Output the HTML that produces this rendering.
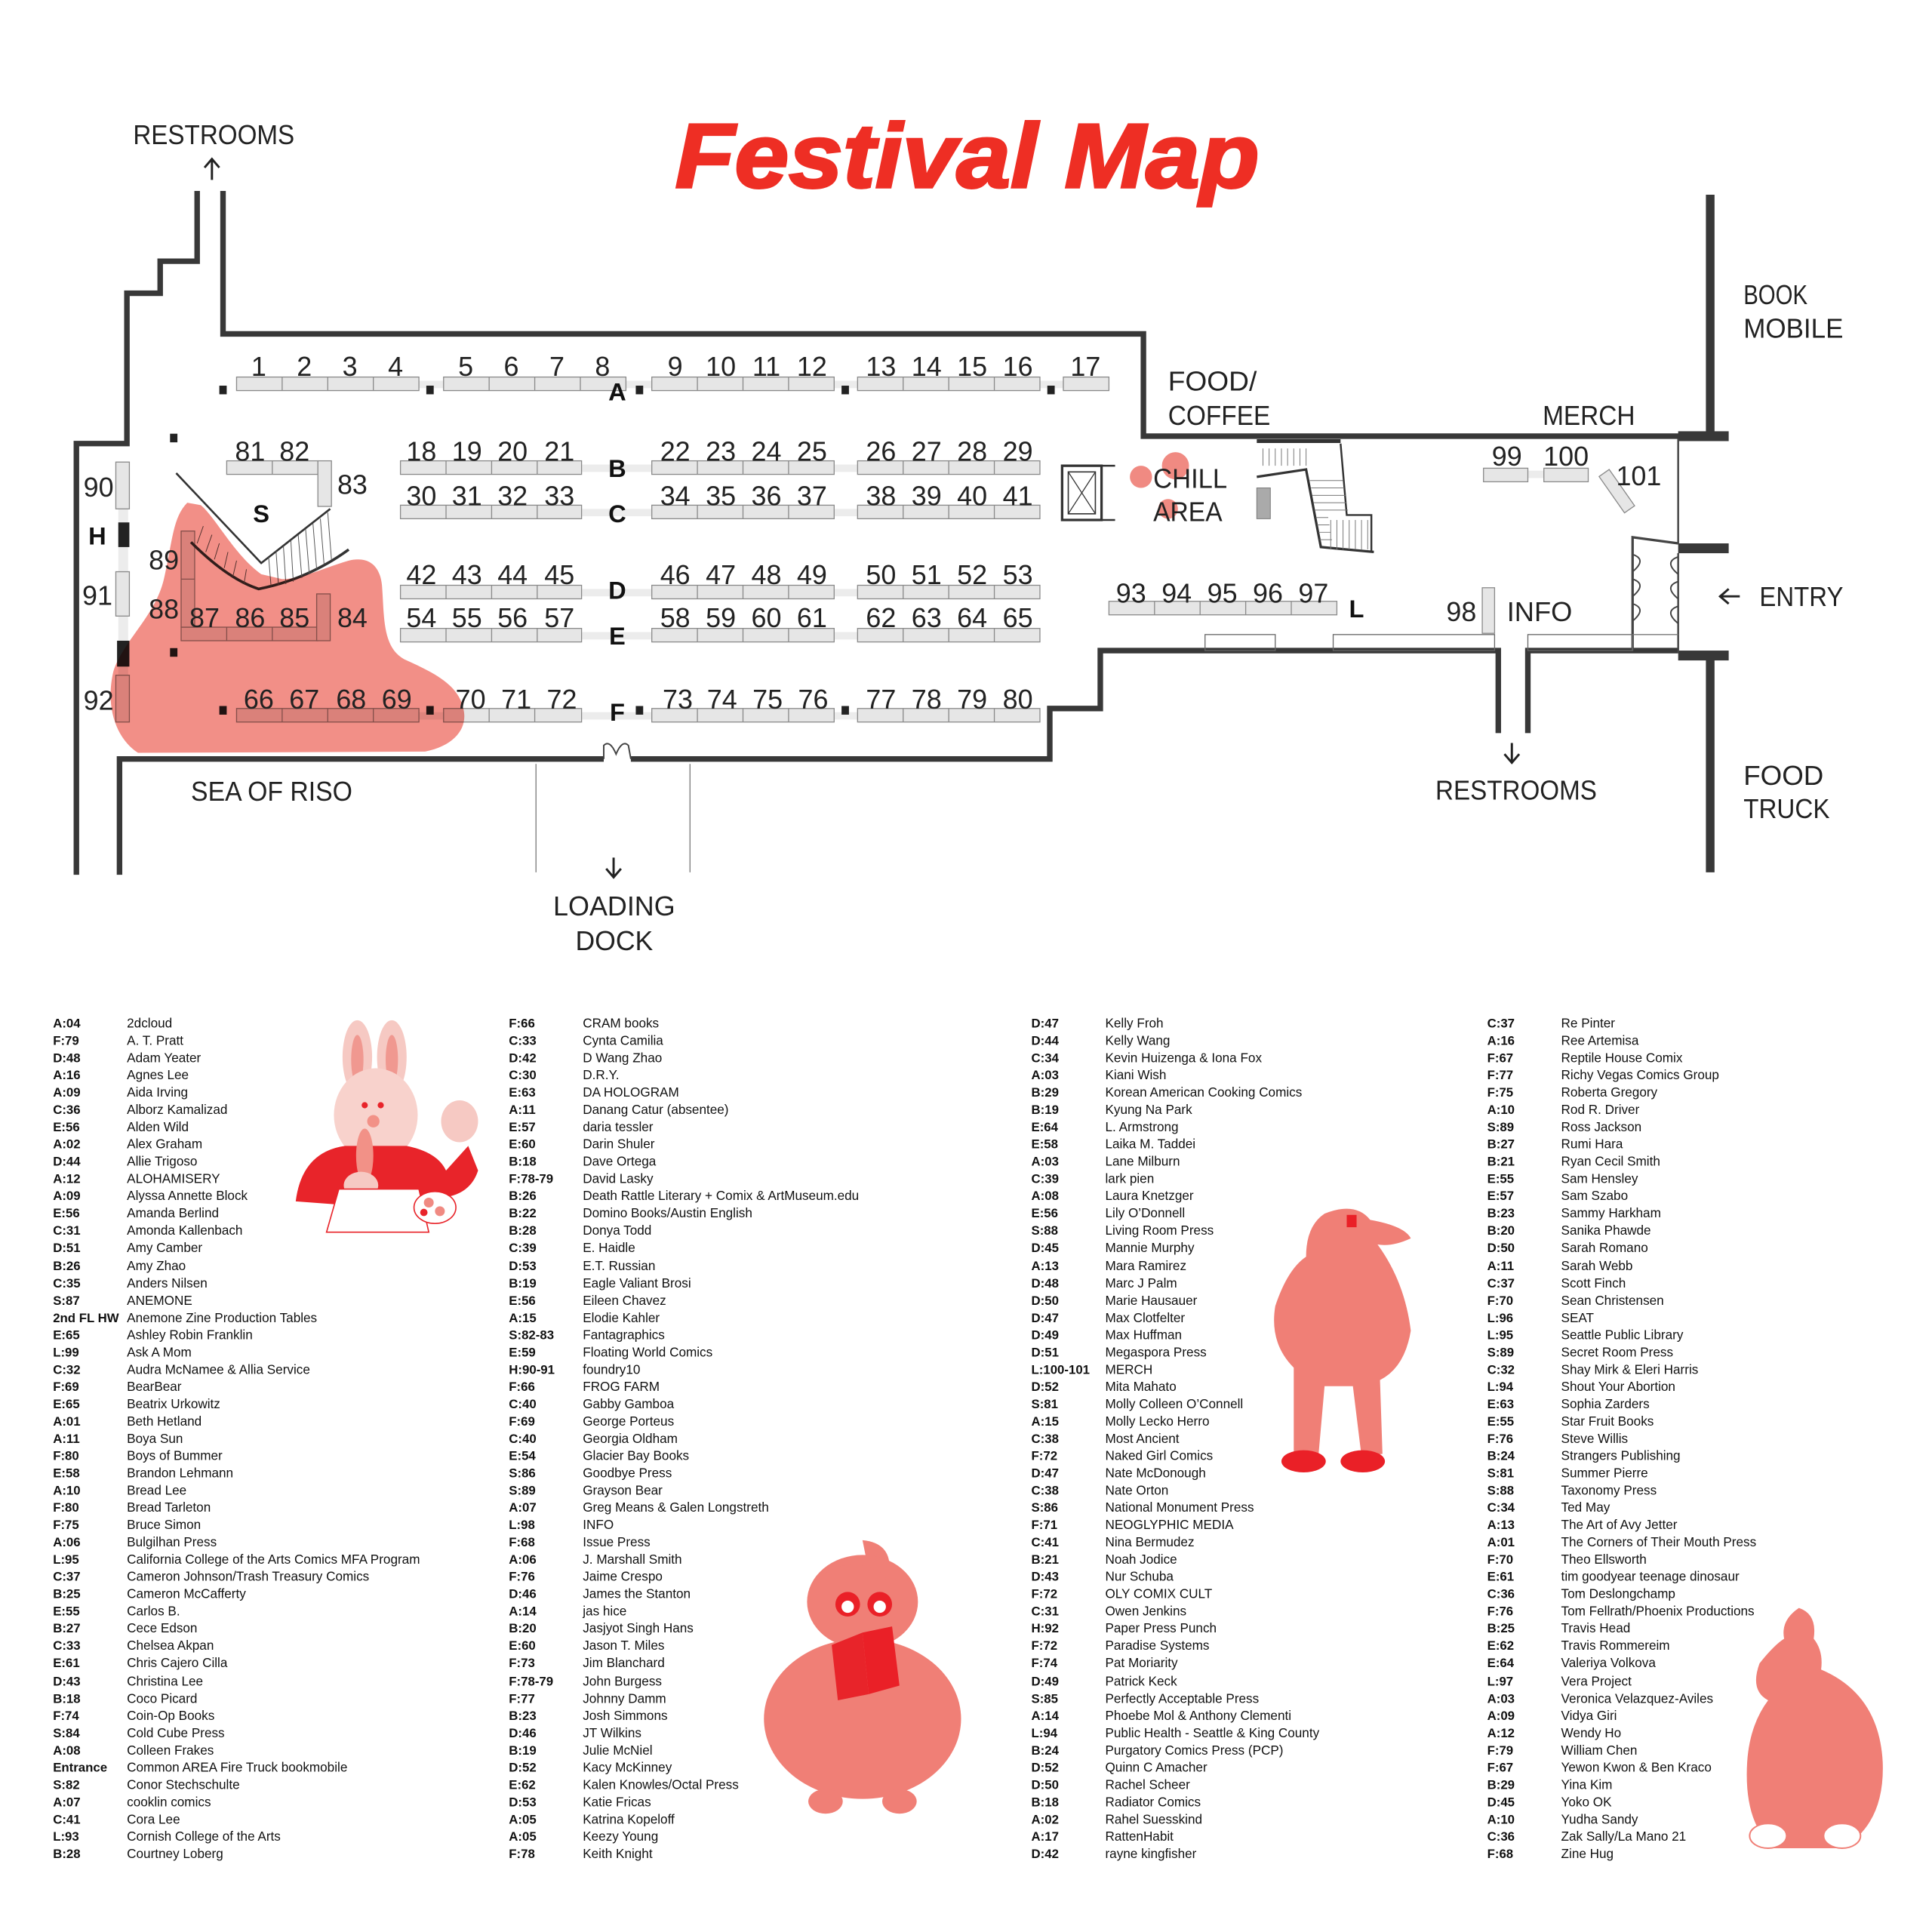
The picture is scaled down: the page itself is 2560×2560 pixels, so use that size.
<!DOCTYPE html>
<html><head><meta charset="utf-8"><style>
html,body{margin:0;padding:0;background:#fff}
svg{display:block}
.n{font-family:"Liberation Sans Narrow","Liberation Sans",sans-serif;font-size:22px;fill:#222;text-anchor:middle}
.lab{font-family:"Liberation Sans",sans-serif;font-size:22px;fill:#222}
.rl{font-family:"Liberation Sans",sans-serif;font-size:20px;font-weight:bold;fill:#111;text-anchor:middle}
.code{font-family:"Liberation Sans",sans-serif;font-size:10.3px;font-weight:bold;fill:#111}
.nm{font-family:"Liberation Sans",sans-serif;font-size:10.5px;fill:#111}
.t{fill:#e6e6e6;stroke:#8a8a8a;stroke-width:0.8}
.w{fill:none;stroke:#383838;stroke-width:4.5}
.thin{fill:none;stroke:#777;stroke-width:0.8}
</style></head><body>
<svg width="2560" height="2560" viewBox="0 0 1568 1568" xmlns="http://www.w3.org/2000/svg">
<text x="548" y="152" font-family="Liberation Sans,sans-serif" font-weight="bold" font-style="italic" font-size="74" fill="#ee2e24" stroke="#ee2e24" stroke-width="2" textLength="474" lengthAdjust="spacingAndGlyphs">Festival Map</text>

<polyline class="w" points="181,155 181,271 928,271 928,354 1388,354"/>
<line x1="1388" y1="158" x2="1388" y2="354" stroke="#383838" stroke-width="7"/>
<rect x="1362" y="350" width="41" height="8" fill="#383838"/>
<polyline class="w" points="160,155 160,212 130,212 130,238 103,238 103,360 62,360 62,710"/>
<polyline class="w" points="97,710 97,616 490,616"/>
<polyline class="w" points="512,616 852,616 852,575 893,575 893,528 1216,528 1216,595"/>
<polyline class="w" points="1240,595 1240,528 1362,528"/>
<rect x="1362" y="528" width="41" height="8" fill="#383838"/>
<line x1="1388" y1="535" x2="1388" y2="708" stroke="#383838" stroke-width="7"/>
<rect x="1362" y="441" width="41" height="8" fill="#383838"/>
<line x1="1362" y1="356" x2="1362" y2="441" stroke="#444" stroke-width="1.5"/>
<line x1="1362" y1="449" x2="1362" y2="528" stroke="#444" stroke-width="1.5"/>
<polyline fill="none" stroke="#444" stroke-width="2" points="1362,441 1325,436 1325,528"/>
<path d="M1325,450 q12,4 0,14 M1325,470 q12,4 0,14 M1325,490 q12,4 0,14 M1362,452 q-12,4 0,14 M1362,472 q-12,4 0,14 M1362,492 q-12,4 0,14" fill="none" stroke="#444" stroke-width="1.2"/>
<line x1="1325" y1="515" x2="1362" y2="515" class="thin"/>
<path d="M490,616 L490,605 Q495,600 500,612 Q505,600 510,605 L512,616" fill="none" stroke="#444" stroke-width="1.2"/>
<line x1="435" y1="620" x2="435" y2="708" class="thin"/>
<line x1="560" y1="620" x2="560" y2="708" class="thin"/>
<rect x="978" y="515" width="57" height="13" fill="none" stroke="#666" stroke-width="0.8"/>
<rect x="1082" y="515" width="131" height="13" fill="none" stroke="#666" stroke-width="0.8"/>
<rect x="1240" y="515" width="85" height="13" fill="none" stroke="#666" stroke-width="0.8"/>

<g fill="#ececec">
<rect x="340" y="309" width="530" height="6"/>
<rect x="472" y="377" width="57" height="6"/><rect x="677" y="377" width="19" height="6"/>
<rect x="472" y="413" width="57" height="6"/><rect x="677" y="413" width="19" height="6"/>
<rect x="472" y="478" width="57" height="6"/><rect x="677" y="478" width="19" height="6"/>
<rect x="472" y="513" width="57" height="6"/><rect x="677" y="513" width="19" height="6"/>
<rect x="340" y="578" width="356" height="6"/>
<rect x="96" y="413" width="8" height="135"/>
<rect x="1240" y="382" width="13" height="6"/>
</g>

<g>
<rect class="t" x="192" y="306" width="148" height="11"/><rect class="t" x="360" y="306" width="148" height="11"/><rect class="t" x="529" y="306" width="148" height="11"/><rect class="t" x="696" y="306" width="148" height="11"/><rect class="t" x="863" y="306" width="37" height="11"/>
<rect class="t" x="325" y="374" width="147" height="11"/><rect class="t" x="529" y="374" width="148" height="11"/><rect class="t" x="696" y="374" width="148" height="11"/>
<rect class="t" x="325" y="410" width="147" height="11"/><rect class="t" x="529" y="410" width="148" height="11"/><rect class="t" x="696" y="410" width="148" height="11"/>
<rect class="t" x="325" y="475" width="147" height="11"/><rect class="t" x="529" y="475" width="148" height="11"/><rect class="t" x="696" y="475" width="148" height="11"/>
<rect class="t" x="325" y="510" width="147" height="11"/><rect class="t" x="529" y="510" width="148" height="11"/><rect class="t" x="696" y="510" width="148" height="11"/>
<rect class="t" x="192" y="575" width="148" height="11"/><rect class="t" x="360" y="575" width="112" height="11"/><rect class="t" x="529" y="575" width="148" height="11"/><rect class="t" x="696" y="575" width="148" height="11"/>
<rect class="t" x="184" y="374" width="74" height="11"/><rect class="t" x="258" y="374" width="11" height="37"/>
<rect class="t" x="94" y="375" width="11" height="38"/><rect class="t" x="94" y="464" width="11" height="36"/><rect class="t" x="94" y="548" width="11" height="38"/>
<rect class="t" x="147" y="509" width="111" height="11"/><rect class="t" x="147" y="431" width="11" height="78"/><rect class="t" x="257" y="482" width="11" height="38"/>
<rect class="t" x="900" y="488" width="185" height="11"/>
<rect class="t" x="1203" y="477" width="10" height="37"/>
<rect class="t" x="1204" y="380" width="36" height="11"/><rect class="t" x="1253" y="380" width="36" height="11"/>
<rect class="t" x="0" y="0" width="36" height="10" transform="translate(1306,381) rotate(55)"/>
</g>
<g stroke="#8a8a8a" stroke-width="0.8">
<path d="M229,306v11M266,306v11M303,306v11M397,306v11M434,306v11M471,306v11M566,306v11M603,306v11M640,306v11M733,306v11M770,306v11M807,306v11"/>
<path d="M362,374v11M399,374v11M436,374v11M566,374v11M603,374v11M640,374v11M733,374v11M770,374v11M807,374v11"/>
<path d="M362,410v11M399,410v11M436,410v11M566,410v11M603,410v11M640,410v11M733,410v11M770,410v11M807,410v11"/>
<path d="M362,475v11M399,475v11M436,475v11M566,475v11M603,475v11M640,475v11M733,475v11M770,475v11M807,475v11"/>
<path d="M362,510v11M399,510v11M436,510v11M566,510v11M603,510v11M640,510v11M733,510v11M770,510v11M807,510v11"/>
<path d="M229,575v11M266,575v11M303,575v11M397,575v11M434,575v11M566,575v11M603,575v11M640,575v11M733,575v11M770,575v11M807,575v11"/>
<path d="M221,374v11M184,509v11M221,509v11M147,470h11M937,488v11M974,488v11M1011,488v11M1048,488v11"/>
</g>
<g fill="#222">
<rect x="178" y="313" width="6" height="7"/><rect x="346" y="313" width="6" height="7"/><rect x="516" y="313" width="6" height="7"/><rect x="683" y="313" width="6" height="7"/><rect x="850" y="313" width="6" height="7"/>
<rect x="178" y="573" width="6" height="7"/><rect x="346" y="573" width="6" height="7"/><rect x="516" y="573" width="6" height="7"/><rect x="683" y="573" width="6" height="7"/>
<rect x="138" y="352" width="6" height="7"/><rect x="138" y="526" width="6" height="7"/>
<rect x="96" y="424" width="9" height="20"/><rect x="95" y="520" width="10" height="21"/>
</g>

<polyline points="143,384 212,457 268,413" fill="none" stroke="#333" stroke-width="1.6"/>
<path d="M155,440 Q185,470 210,478 Q250,470 283,446" fill="none" stroke="#333" stroke-width="2.2"/>
<g stroke="#555" stroke-width="0.6">
<path d="M165,427 l-5,14 M172,434 l-5,14 M178,441 l-4,13 M185,448 l-3,13 M192,455 l-3,13 M200,462 l-2,12"/>
<path d="M218,452 l2,24 M224,447 l2,28 M230,443 l2,31 M236,438 l2,34 M242,434 l3,35 M248,429 l3,37 M254,425 l3,37 M260,421 l3,37 M266,416 l3,38"/>
</g>

<path d="M152,408 C140,420 140,440 133,470 C126,500 100,520 92,545 C85,575 95,600 112,611 L345,610 C370,605 380,590 376,575 C372,555 350,545 328,535 C310,525 312,500 310,475 C308,455 295,452 283,455 C265,460 245,470 229,470 L212,466 C190,450 175,420 163,410 Z" fill="#f07f76" fill-opacity="0.88" style="mix-blend-mode:multiply"/>

<rect x="862" y="378" width="32" height="44" fill="none" stroke="#333" stroke-width="2"/>
<rect x="867" y="383" width="22" height="34" fill="none" stroke="#333" stroke-width="1"/>
<path d="M867,383 L889,417 M889,383 L867,417" stroke="#333" stroke-width="0.8"/>
<path d="M894,378 H905 M894,422 H905" stroke="#333" stroke-width="1.5"/>
<circle cx="926" cy="387" r="9" fill="#f08a82"/><circle cx="954" cy="378" r="11" fill="#f08a82"/><circle cx="948" cy="413" r="8" fill="#f08a82"/>
<polyline points="1020,387 1060,381 1072,444 1115,448" fill="none" stroke="#333" stroke-width="2"/>
<polyline points="1088,360 1093,418 1113,418 1113,448" fill="none" stroke="#333" stroke-width="1.5"/>
<line x1="1020" y1="358" x2="1088" y2="358" stroke="#333" stroke-width="3"/>
<g stroke="#777" stroke-width="0.6">
<path d="M1025,364v14M1030,364v14M1035,364v14M1040,364v14M1045,364v14M1050,364v14M1055,364v14M1060,364v14"/>
<path d="M1063,390h27M1064,396h27M1065,402h27M1066,408h27M1067,414h27M1068,420h10M1069,426h10M1070,432h10M1071,438h10"/>
<path d="M1080,422v24M1085,422v24M1090,422v24M1095,422v24M1100,422v24M1105,422v24M1110,422v24"/>
</g>
<rect x="1020" y="396" width="11" height="25" fill="#aaa" stroke="#777" stroke-width="0.6"/>

<g class="n">
<text x="210" y="305">1</text><text x="247" y="305">2</text><text x="284" y="305">3</text><text x="321" y="305">4</text>
<text x="378" y="305">5</text><text x="415" y="305">6</text><text x="452" y="305">7</text><text x="489" y="305">8</text>
<text x="548" y="305">9</text><text x="585" y="305">10</text><text x="622" y="305">11</text><text x="659" y="305">12</text>
<text x="715" y="305">13</text><text x="752" y="305">14</text><text x="789" y="305">15</text><text x="826" y="305">16</text>
<text x="881" y="305">17</text>
<text x="203" y="374">81</text><text x="239" y="374">82</text><text x="286" y="401">83</text>
<text x="342" y="374">18</text><text x="379" y="374">19</text><text x="416" y="374">20</text><text x="454" y="374">21</text>
<text x="548" y="374">22</text><text x="585" y="374">23</text><text x="622" y="374">24</text><text x="659" y="374">25</text>
<text x="715" y="374">26</text><text x="752" y="374">27</text><text x="789" y="374">28</text><text x="826" y="374">29</text>
<text x="342" y="410">30</text><text x="379" y="410">31</text><text x="416" y="410">32</text><text x="454" y="410">33</text>
<text x="548" y="410">34</text><text x="585" y="410">35</text><text x="622" y="410">36</text><text x="659" y="410">37</text>
<text x="715" y="410">38</text><text x="752" y="410">39</text><text x="789" y="410">40</text><text x="826" y="410">41</text>
<text x="342" y="474">42</text><text x="379" y="474">43</text><text x="416" y="474">44</text><text x="454" y="474">45</text>
<text x="548" y="474">46</text><text x="585" y="474">47</text><text x="622" y="474">48</text><text x="659" y="474">49</text>
<text x="715" y="474">50</text><text x="752" y="474">51</text><text x="789" y="474">52</text><text x="826" y="474">53</text>
<text x="342" y="509">54</text><text x="379" y="509">55</text><text x="416" y="509">56</text><text x="454" y="509">57</text>
<text x="548" y="509">58</text><text x="585" y="509">59</text><text x="622" y="509">60</text><text x="659" y="509">61</text>
<text x="715" y="509">62</text><text x="752" y="509">63</text><text x="789" y="509">64</text><text x="826" y="509">65</text>
<text x="210" y="575">66</text><text x="247" y="575">67</text><text x="285" y="575">68</text><text x="322" y="575">69</text>
<text x="382" y="575">70</text><text x="419" y="575">71</text><text x="456" y="575">72</text>
<text x="550" y="575">73</text><text x="586" y="575">74</text><text x="623" y="575">75</text><text x="660" y="575">76</text>
<text x="715" y="575">77</text><text x="752" y="575">78</text><text x="789" y="575">79</text><text x="826" y="575">80</text>
<text x="166" y="509">87</text><text x="203" y="509">86</text><text x="239" y="509">85</text><text x="286" y="509">84</text>
<text x="133" y="462">89</text><text x="133" y="502">88</text>
<text x="80" y="403">90</text><text x="79" y="491">91</text><text x="80" y="576">92</text>
<text x="918" y="489">93</text><text x="955" y="489">94</text><text x="992" y="489">95</text><text x="1029" y="489">96</text><text x="1066" y="489">97</text>
<text x="1186" y="504">98</text><text x="1223" y="378">99</text><text x="1271" y="378">100</text><text x="1330" y="394">101</text>
</g>
<g class="rl">
<text x="501" y="325">A</text><text x="501" y="387">B</text><text x="501" y="424">C</text><text x="501" y="486">D</text><text x="501" y="523">E</text><text x="501" y="585">F</text>
<text x="212" y="424">S</text><text x="79" y="442">H</text><text x="1101" y="501">L</text>
</g>
<g class="lab">
<text x="108" y="117" textLength="131" lengthAdjust="spacingAndGlyphs">RESTROOMS</text>
<text x="1415" y="247" textLength="52" lengthAdjust="spacingAndGlyphs">BOOK</text><text x="1415" y="274" textLength="81" lengthAdjust="spacingAndGlyphs">MOBILE</text>
<text x="948" y="317" textLength="72" lengthAdjust="spacingAndGlyphs">FOOD/</text><text x="948" y="345" textLength="83" lengthAdjust="spacingAndGlyphs">COFFEE</text>
<text x="1252" y="345" textLength="75" lengthAdjust="spacingAndGlyphs">MERCH</text>
<text x="936" y="396" textLength="60" lengthAdjust="spacingAndGlyphs">CHILL</text><text x="936" y="423" textLength="56" lengthAdjust="spacingAndGlyphs">AREA</text>
<text x="1223" y="504" textLength="53" lengthAdjust="spacingAndGlyphs">INFO</text>
<text x="1428" y="492" textLength="68" lengthAdjust="spacingAndGlyphs">ENTRY</text>
<text x="1165" y="649" textLength="131" lengthAdjust="spacingAndGlyphs">RESTROOMS</text>
<text x="1415" y="637" textLength="65" lengthAdjust="spacingAndGlyphs">FOOD</text><text x="1415" y="664" textLength="70" lengthAdjust="spacingAndGlyphs">TRUCK</text>
<text x="155" y="650" textLength="131" lengthAdjust="spacingAndGlyphs">SEA OF RISO</text>
<text x="449" y="743" textLength="99" lengthAdjust="spacingAndGlyphs">LOADING</text><text x="467" y="771" textLength="63" lengthAdjust="spacingAndGlyphs">DOCK</text>
</g>
<g fill="none" stroke="#222" stroke-width="1.8">
<path d="M172,146 V130 M166,136 L172,129 L178,136"/>
<path d="M1412,484 H1397 M1403,478 L1396,484 L1403,490"/>
<path d="M1227,603 V618 M1221,612 L1227,619 L1233,612"/>
<path d="M498,696 V711 M492,705 L498,712 L504,705"/>
</g>

<g>
<ellipse cx="290" cy="858" rx="12" ry="30" fill="#f6c9c3"/><ellipse cx="318" cy="858" rx="12" ry="30" fill="#f6c9c3"/>
<ellipse cx="290" cy="860" rx="5" ry="20" fill="#f09890"/><ellipse cx="318" cy="860" rx="5" ry="20" fill="#f09890"/>
<ellipse cx="305" cy="905" rx="34" ry="38" fill="#f8d2cc"/>
<path d="M240,975 Q245,935 280,930 L330,930 Q355,935 362,950 L380,930 L388,950 Q380,975 345,972 L330,975 L280,978 Z" fill="#e8242a"/>
<ellipse cx="373" cy="910" rx="15" ry="17" fill="#f6c9c3"/>
<ellipse cx="296" cy="938" rx="7" ry="22" fill="#f29187"/>
<ellipse cx="293" cy="962" rx="14" ry="11" fill="#f6c9c3"/>
<path d="M275,965 L340,965 L348,1000 L265,1000 Z" fill="#fff" stroke="#e8242a" stroke-width="1"/>
<ellipse cx="353" cy="980" rx="17" ry="13" fill="#fff" stroke="#e8242a" stroke-width="1"/>
<circle cx="348" cy="976" r="4" fill="#f08a82"/><circle cx="357" cy="983" r="4" fill="#f08a82"/><circle cx="344" cy="984" r="3" fill="#e8242a"/>
<circle cx="296" cy="897" r="2.5" fill="#e8242a"/><circle cx="309" cy="897" r="2.5" fill="#e8242a"/><circle cx="303" cy="910" r="5" fill="#f29187"/>
<path d="M1075,985 Q1100,975 1112,990 Q1140,995 1145,1005 Q1130,1012 1118,1010 Q1140,1040 1145,1080 Q1140,1110 1120,1120 L1122,1180 L1105,1182 L1098,1125 L1075,1125 L1070,1182 L1050,1182 L1050,1110 Q1030,1090 1035,1060 Q1045,1030 1060,1020 Q1060,995 1075,985 Z" fill="#f07f76"/>
<ellipse cx="1058" cy="1186" rx="18" ry="9" fill="#ea2027"/><ellipse cx="1106" cy="1186" rx="18" ry="9" fill="#ea2027"/>
<rect x="1093" y="986" width="8" height="10" fill="#ea2027"/>
<path d="M700,1250 Q722,1252 722,1272 L705,1275 Z" fill="#f07f76"/>
<ellipse cx="700" cy="1300" rx="45" ry="38" fill="#f07f76"/>
<ellipse cx="700" cy="1395" rx="80" ry="65" fill="#f07f76"/>
<path d="M668,1278 Q690,1262 718,1278 L720,1285 L668,1285 Z" fill="#f07f76"/>
<circle cx="688" cy="1302" r="10" fill="#ea2027"/><circle cx="714" cy="1302" r="10" fill="#ea2027"/>
<circle cx="688" cy="1304" r="5" fill="#fff"/><circle cx="714" cy="1304" r="5" fill="#fff"/>
<path d="M675,1335 L700,1325 L705,1375 L680,1380 Z" fill="#e8242a"/><path d="M700,1325 L724,1320 L730,1368 L705,1375 Z" fill="#ea2027"/>
<ellipse cx="670" cy="1462" rx="14" ry="10" fill="#f07f76"/><ellipse cx="730" cy="1462" rx="14" ry="10" fill="#f07f76"/>
<path d="M1460,1305 Q1475,1310 1472,1330 Q1480,1340 1478,1355 Q1525,1375 1528,1430 Q1530,1480 1495,1500 L1440,1500 Q1415,1480 1418,1430 Q1420,1400 1435,1380 Q1420,1372 1428,1350 Q1440,1335 1448,1330 Q1445,1315 1460,1305 Z" fill="#f07f76"/>
<ellipse cx="1435" cy="1490" rx="15" ry="10" fill="#fff" stroke="#f07f76" stroke-width="1.2"/><ellipse cx="1495" cy="1490" rx="15" ry="10" fill="#fff" stroke="#f07f76" stroke-width="1.2"/>
</g>

<text class="code"><tspan x="43" y="834">A:04</tspan><tspan x="43" y="848">F:79</tspan><tspan x="43" y="862">D:48</tspan><tspan x="43" y="876">A:16</tspan><tspan x="43" y="890">A:09</tspan><tspan x="43" y="904">C:36</tspan><tspan x="43" y="918">E:56</tspan><tspan x="43" y="932">A:02</tspan><tspan x="43" y="946">D:44</tspan><tspan x="43" y="960">A:12</tspan><tspan x="43" y="974">A:09</tspan><tspan x="43" y="988">E:56</tspan><tspan x="43" y="1002">C:31</tspan><tspan x="43" y="1016">D:51</tspan><tspan x="43" y="1031">B:26</tspan><tspan x="43" y="1045">C:35</tspan><tspan x="43" y="1059">S:87</tspan><tspan x="43" y="1073">2nd FL HW</tspan><tspan x="43" y="1087">E:65</tspan><tspan x="43" y="1101">L:99</tspan><tspan x="43" y="1115">C:32</tspan><tspan x="43" y="1129">F:69</tspan><tspan x="43" y="1143">E:65</tspan><tspan x="43" y="1157">A:01</tspan><tspan x="43" y="1171">A:11</tspan><tspan x="43" y="1185">F:80</tspan><tspan x="43" y="1199">E:58</tspan><tspan x="43" y="1213">A:10</tspan><tspan x="43" y="1227">F:80</tspan><tspan x="43" y="1241">F:75</tspan><tspan x="43" y="1255">A:06</tspan><tspan x="43" y="1269">L:95</tspan><tspan x="43" y="1283">C:37</tspan><tspan x="43" y="1297">B:25</tspan><tspan x="43" y="1311">E:55</tspan><tspan x="43" y="1325">B:27</tspan><tspan x="43" y="1339">C:33</tspan><tspan x="43" y="1353">E:61</tspan><tspan x="43" y="1368">D:43</tspan><tspan x="43" y="1382">B:18</tspan><tspan x="43" y="1396">F:74</tspan><tspan x="43" y="1410">S:84</tspan><tspan x="43" y="1424">A:08</tspan><tspan x="43" y="1438">Entrance</tspan><tspan x="43" y="1452">S:82</tspan><tspan x="43" y="1466">A:07</tspan><tspan x="43" y="1480">C:41</tspan><tspan x="43" y="1494">L:93</tspan><tspan x="43" y="1508">B:28</tspan></text>
<text class="nm"><tspan x="103" y="834">2dcloud</tspan><tspan x="103" y="848">A. T. Pratt</tspan><tspan x="103" y="862">Adam Yeater</tspan><tspan x="103" y="876">Agnes Lee</tspan><tspan x="103" y="890">Aida Irving</tspan><tspan x="103" y="904">Alborz Kamalizad</tspan><tspan x="103" y="918">Alden Wild</tspan><tspan x="103" y="932">Alex Graham</tspan><tspan x="103" y="946">Allie Trigoso</tspan><tspan x="103" y="960">ALOHAMISERY</tspan><tspan x="103" y="974">Alyssa Annette Block</tspan><tspan x="103" y="988">Amanda Berlind</tspan><tspan x="103" y="1002">Amonda Kallenbach</tspan><tspan x="103" y="1016">Amy Camber</tspan><tspan x="103" y="1031">Amy Zhao</tspan><tspan x="103" y="1045">Anders Nilsen</tspan><tspan x="103" y="1059">ANEMONE</tspan><tspan x="103" y="1073">Anemone Zine Production Tables</tspan><tspan x="103" y="1087">Ashley Robin Franklin</tspan><tspan x="103" y="1101">Ask A Mom</tspan><tspan x="103" y="1115">Audra McNamee &amp; Allia Service</tspan><tspan x="103" y="1129">BearBear</tspan><tspan x="103" y="1143">Beatrix Urkowitz</tspan><tspan x="103" y="1157">Beth Hetland</tspan><tspan x="103" y="1171">Boya Sun</tspan><tspan x="103" y="1185">Boys of Bummer</tspan><tspan x="103" y="1199">Brandon Lehmann</tspan><tspan x="103" y="1213">Bread Lee</tspan><tspan x="103" y="1227">Bread Tarleton</tspan><tspan x="103" y="1241">Bruce Simon</tspan><tspan x="103" y="1255">Bulgilhan Press</tspan><tspan x="103" y="1269">California College of the Arts Comics MFA Program</tspan><tspan x="103" y="1283">Cameron Johnson/Trash Treasury Comics</tspan><tspan x="103" y="1297">Cameron McCafferty</tspan><tspan x="103" y="1311">Carlos B.</tspan><tspan x="103" y="1325">Cece Edson</tspan><tspan x="103" y="1339">Chelsea Akpan</tspan><tspan x="103" y="1353">Chris Cajero Cilla</tspan><tspan x="103" y="1368">Christina Lee</tspan><tspan x="103" y="1382">Coco Picard</tspan><tspan x="103" y="1396">Coin-Op Books</tspan><tspan x="103" y="1410">Cold Cube Press</tspan><tspan x="103" y="1424">Colleen Frakes</tspan><tspan x="103" y="1438">Common AREA Fire Truck bookmobile</tspan><tspan x="103" y="1452">Conor Stechschulte</tspan><tspan x="103" y="1466">cooklin comics</tspan><tspan x="103" y="1480">Cora Lee</tspan><tspan x="103" y="1494">Cornish College of the Arts</tspan><tspan x="103" y="1508">Courtney Loberg</tspan></text>

<text class="code"><tspan x="413" y="834">F:66</tspan><tspan x="413" y="848">C:33</tspan><tspan x="413" y="862">D:42</tspan><tspan x="413" y="876">C:30</tspan><tspan x="413" y="890">E:63</tspan><tspan x="413" y="904">A:11</tspan><tspan x="413" y="918">E:57</tspan><tspan x="413" y="932">E:60</tspan><tspan x="413" y="946">B:18</tspan><tspan x="413" y="960">F:78-79</tspan><tspan x="413" y="974">B:26</tspan><tspan x="413" y="988">B:22</tspan><tspan x="413" y="1002">B:28</tspan><tspan x="413" y="1016">C:39</tspan><tspan x="413" y="1031">D:53</tspan><tspan x="413" y="1045">B:19</tspan><tspan x="413" y="1059">E:56</tspan><tspan x="413" y="1073">A:15</tspan><tspan x="413" y="1087">S:82-83</tspan><tspan x="413" y="1101">E:59</tspan><tspan x="413" y="1115">H:90-91</tspan><tspan x="413" y="1129">F:66</tspan><tspan x="413" y="1143">C:40</tspan><tspan x="413" y="1157">F:69</tspan><tspan x="413" y="1171">C:40</tspan><tspan x="413" y="1185">E:54</tspan><tspan x="413" y="1199">S:86</tspan><tspan x="413" y="1213">S:89</tspan><tspan x="413" y="1227">A:07</tspan><tspan x="413" y="1241">L:98</tspan><tspan x="413" y="1255">F:68</tspan><tspan x="413" y="1269">A:06</tspan><tspan x="413" y="1283">F:76</tspan><tspan x="413" y="1297">D:46</tspan><tspan x="413" y="1311">A:14</tspan><tspan x="413" y="1325">B:20</tspan><tspan x="413" y="1339">E:60</tspan><tspan x="413" y="1353">F:73</tspan><tspan x="413" y="1368">F:78-79</tspan><tspan x="413" y="1382">F:77</tspan><tspan x="413" y="1396">B:23</tspan><tspan x="413" y="1410">D:46</tspan><tspan x="413" y="1424">B:19</tspan><tspan x="413" y="1438">D:52</tspan><tspan x="413" y="1452">E:62</tspan><tspan x="413" y="1466">D:53</tspan><tspan x="413" y="1480">A:05</tspan><tspan x="413" y="1494">A:05</tspan><tspan x="413" y="1508">F:78</tspan></text>
<text class="nm"><tspan x="473" y="834">CRAM books</tspan><tspan x="473" y="848">Cynta Camilia</tspan><tspan x="473" y="862">D Wang Zhao</tspan><tspan x="473" y="876">D.R.Y.</tspan><tspan x="473" y="890">DA HOLOGRAM</tspan><tspan x="473" y="904">Danang Catur (absentee)</tspan><tspan x="473" y="918">daria tessler</tspan><tspan x="473" y="932">Darin Shuler</tspan><tspan x="473" y="946">Dave Ortega</tspan><tspan x="473" y="960">David Lasky</tspan><tspan x="473" y="974">Death Rattle Literary + Comix &amp; ArtMuseum.edu</tspan><tspan x="473" y="988">Domino Books/Austin English</tspan><tspan x="473" y="1002">Donya Todd</tspan><tspan x="473" y="1016">E. Haidle</tspan><tspan x="473" y="1031">E.T. Russian</tspan><tspan x="473" y="1045">Eagle Valiant Brosi</tspan><tspan x="473" y="1059">Eileen Chavez</tspan><tspan x="473" y="1073">Elodie Kahler</tspan><tspan x="473" y="1087">Fantagraphics</tspan><tspan x="473" y="1101">Floating World Comics</tspan><tspan x="473" y="1115">foundry10</tspan><tspan x="473" y="1129">FROG FARM</tspan><tspan x="473" y="1143">Gabby Gamboa</tspan><tspan x="473" y="1157">George Porteus</tspan><tspan x="473" y="1171">Georgia Oldham</tspan><tspan x="473" y="1185">Glacier Bay Books</tspan><tspan x="473" y="1199">Goodbye Press</tspan><tspan x="473" y="1213">Grayson Bear</tspan><tspan x="473" y="1227">Greg Means &amp; Galen Longstreth</tspan><tspan x="473" y="1241">INFO</tspan><tspan x="473" y="1255">Issue Press</tspan><tspan x="473" y="1269">J. Marshall Smith</tspan><tspan x="473" y="1283">Jaime Crespo</tspan><tspan x="473" y="1297">James the Stanton</tspan><tspan x="473" y="1311">jas hice</tspan><tspan x="473" y="1325">Jasjyot Singh Hans</tspan><tspan x="473" y="1339">Jason T. Miles</tspan><tspan x="473" y="1353">Jim Blanchard</tspan><tspan x="473" y="1368">John Burgess</tspan><tspan x="473" y="1382">Johnny Damm</tspan><tspan x="473" y="1396">Josh Simmons</tspan><tspan x="473" y="1410">JT Wilkins</tspan><tspan x="473" y="1424">Julie McNiel</tspan><tspan x="473" y="1438">Kacy McKinney</tspan><tspan x="473" y="1452">Kalen Knowles/Octal Press</tspan><tspan x="473" y="1466">Katie Fricas</tspan><tspan x="473" y="1480">Katrina Kopeloff</tspan><tspan x="473" y="1494">Keezy Young</tspan><tspan x="473" y="1508">Keith Knight</tspan></text>

<text class="code"><tspan x="837" y="834">D:47</tspan><tspan x="837" y="848">D:44</tspan><tspan x="837" y="862">C:34</tspan><tspan x="837" y="876">A:03</tspan><tspan x="837" y="890">B:29</tspan><tspan x="837" y="904">B:19</tspan><tspan x="837" y="918">E:64</tspan><tspan x="837" y="932">E:58</tspan><tspan x="837" y="946">A:03</tspan><tspan x="837" y="960">C:39</tspan><tspan x="837" y="974">A:08</tspan><tspan x="837" y="988">E:56</tspan><tspan x="837" y="1002">S:88</tspan><tspan x="837" y="1016">D:45</tspan><tspan x="837" y="1031">A:13</tspan><tspan x="837" y="1045">D:48</tspan><tspan x="837" y="1059">D:50</tspan><tspan x="837" y="1073">D:47</tspan><tspan x="837" y="1087">D:49</tspan><tspan x="837" y="1101">D:51</tspan><tspan x="837" y="1115">L:100-101</tspan><tspan x="837" y="1129">D:52</tspan><tspan x="837" y="1143">S:81</tspan><tspan x="837" y="1157">A:15</tspan><tspan x="837" y="1171">C:38</tspan><tspan x="837" y="1185">F:72</tspan><tspan x="837" y="1199">D:47</tspan><tspan x="837" y="1213">C:38</tspan><tspan x="837" y="1227">S:86</tspan><tspan x="837" y="1241">F:71</tspan><tspan x="837" y="1255">C:41</tspan><tspan x="837" y="1269">B:21</tspan><tspan x="837" y="1283">D:43</tspan><tspan x="837" y="1297">F:72</tspan><tspan x="837" y="1311">C:31</tspan><tspan x="837" y="1325">H:92</tspan><tspan x="837" y="1339">F:72</tspan><tspan x="837" y="1353">F:74</tspan><tspan x="837" y="1368">D:49</tspan><tspan x="837" y="1382">S:85</tspan><tspan x="837" y="1396">A:14</tspan><tspan x="837" y="1410">L:94</tspan><tspan x="837" y="1424">B:24</tspan><tspan x="837" y="1438">D:52</tspan><tspan x="837" y="1452">D:50</tspan><tspan x="837" y="1466">B:18</tspan><tspan x="837" y="1480">A:02</tspan><tspan x="837" y="1494">A:17</tspan><tspan x="837" y="1508">D:42</tspan></text>
<text class="nm"><tspan x="897" y="834">Kelly Froh</tspan><tspan x="897" y="848">Kelly Wang</tspan><tspan x="897" y="862">Kevin Huizenga &amp; Iona Fox</tspan><tspan x="897" y="876">Kiani Wish</tspan><tspan x="897" y="890">Korean American Cooking Comics</tspan><tspan x="897" y="904">Kyung Na Park</tspan><tspan x="897" y="918">L. Armstrong</tspan><tspan x="897" y="932">Laika M. Taddei</tspan><tspan x="897" y="946">Lane Milburn</tspan><tspan x="897" y="960">lark pien</tspan><tspan x="897" y="974">Laura Knetzger</tspan><tspan x="897" y="988">Lily O’Donnell</tspan><tspan x="897" y="1002">Living Room Press</tspan><tspan x="897" y="1016">Mannie Murphy</tspan><tspan x="897" y="1031">Mara Ramirez</tspan><tspan x="897" y="1045">Marc J Palm</tspan><tspan x="897" y="1059">Marie Hausauer</tspan><tspan x="897" y="1073">Max Clotfelter</tspan><tspan x="897" y="1087">Max Huffman</tspan><tspan x="897" y="1101">Megaspora Press</tspan><tspan x="897" y="1115">MERCH</tspan><tspan x="897" y="1129">Mita Mahato</tspan><tspan x="897" y="1143">Molly Colleen O’Connell</tspan><tspan x="897" y="1157">Molly Lecko Herro</tspan><tspan x="897" y="1171">Most Ancient</tspan><tspan x="897" y="1185">Naked Girl Comics</tspan><tspan x="897" y="1199">Nate McDonough</tspan><tspan x="897" y="1213">Nate Orton</tspan><tspan x="897" y="1227">National Monument Press</tspan><tspan x="897" y="1241">NEOGLYPHIC MEDIA</tspan><tspan x="897" y="1255">Nina Bermudez</tspan><tspan x="897" y="1269">Noah Jodice</tspan><tspan x="897" y="1283">Nur Schuba</tspan><tspan x="897" y="1297">OLY COMIX CULT</tspan><tspan x="897" y="1311">Owen Jenkins</tspan><tspan x="897" y="1325">Paper Press Punch</tspan><tspan x="897" y="1339">Paradise Systems</tspan><tspan x="897" y="1353">Pat Moriarity</tspan><tspan x="897" y="1368">Patrick Keck</tspan><tspan x="897" y="1382">Perfectly Acceptable Press</tspan><tspan x="897" y="1396">Phoebe Mol &amp; Anthony Clementi</tspan><tspan x="897" y="1410">Public Health - Seattle &amp; King County</tspan><tspan x="897" y="1424">Purgatory Comics Press (PCP)</tspan><tspan x="897" y="1438">Quinn C Amacher</tspan><tspan x="897" y="1452">Rachel Scheer</tspan><tspan x="897" y="1466">Radiator Comics</tspan><tspan x="897" y="1480">Rahel Suesskind</tspan><tspan x="897" y="1494">RattenHabit</tspan><tspan x="897" y="1508">rayne kingfisher</tspan></text>

<text class="code"><tspan x="1207" y="834">C:37</tspan><tspan x="1207" y="848">A:16</tspan><tspan x="1207" y="862">F:67</tspan><tspan x="1207" y="876">F:77</tspan><tspan x="1207" y="890">F:75</tspan><tspan x="1207" y="904">A:10</tspan><tspan x="1207" y="918">S:89</tspan><tspan x="1207" y="932">B:27</tspan><tspan x="1207" y="946">B:21</tspan><tspan x="1207" y="960">E:55</tspan><tspan x="1207" y="974">E:57</tspan><tspan x="1207" y="988">B:23</tspan><tspan x="1207" y="1002">B:20</tspan><tspan x="1207" y="1016">D:50</tspan><tspan x="1207" y="1031">A:11</tspan><tspan x="1207" y="1045">C:37</tspan><tspan x="1207" y="1059">F:70</tspan><tspan x="1207" y="1073">L:96</tspan><tspan x="1207" y="1087">L:95</tspan><tspan x="1207" y="1101">S:89</tspan><tspan x="1207" y="1115">C:32</tspan><tspan x="1207" y="1129">L:94</tspan><tspan x="1207" y="1143">E:63</tspan><tspan x="1207" y="1157">E:55</tspan><tspan x="1207" y="1171">F:76</tspan><tspan x="1207" y="1185">B:24</tspan><tspan x="1207" y="1199">S:81</tspan><tspan x="1207" y="1213">S:88</tspan><tspan x="1207" y="1227">C:34</tspan><tspan x="1207" y="1241">A:13</tspan><tspan x="1207" y="1255">A:01</tspan><tspan x="1207" y="1269">F:70</tspan><tspan x="1207" y="1283">E:61</tspan><tspan x="1207" y="1297">C:36</tspan><tspan x="1207" y="1311">F:76</tspan><tspan x="1207" y="1325">B:25</tspan><tspan x="1207" y="1339">E:62</tspan><tspan x="1207" y="1353">E:64</tspan><tspan x="1207" y="1368">L:97</tspan><tspan x="1207" y="1382">A:03</tspan><tspan x="1207" y="1396">A:09</tspan><tspan x="1207" y="1410">A:12</tspan><tspan x="1207" y="1424">F:79</tspan><tspan x="1207" y="1438">F:67</tspan><tspan x="1207" y="1452">B:29</tspan><tspan x="1207" y="1466">D:45</tspan><tspan x="1207" y="1480">A:10</tspan><tspan x="1207" y="1494">C:36</tspan><tspan x="1207" y="1508">F:68</tspan></text>
<text class="nm"><tspan x="1267" y="834">Re Pinter</tspan><tspan x="1267" y="848">Ree Artemisa</tspan><tspan x="1267" y="862">Reptile House Comix</tspan><tspan x="1267" y="876">Richy Vegas Comics Group</tspan><tspan x="1267" y="890">Roberta Gregory</tspan><tspan x="1267" y="904">Rod R. Driver</tspan><tspan x="1267" y="918">Ross Jackson</tspan><tspan x="1267" y="932">Rumi Hara</tspan><tspan x="1267" y="946">Ryan Cecil Smith</tspan><tspan x="1267" y="960">Sam Hensley</tspan><tspan x="1267" y="974">Sam Szabo</tspan><tspan x="1267" y="988">Sammy Harkham</tspan><tspan x="1267" y="1002">Sanika Phawde</tspan><tspan x="1267" y="1016">Sarah Romano</tspan><tspan x="1267" y="1031">Sarah Webb</tspan><tspan x="1267" y="1045">Scott Finch</tspan><tspan x="1267" y="1059">Sean Christensen</tspan><tspan x="1267" y="1073">SEAT</tspan><tspan x="1267" y="1087">Seattle Public Library</tspan><tspan x="1267" y="1101">Secret Room Press</tspan><tspan x="1267" y="1115">Shay Mirk &amp; Eleri Harris</tspan><tspan x="1267" y="1129">Shout Your Abortion</tspan><tspan x="1267" y="1143">Sophia Zarders</tspan><tspan x="1267" y="1157">Star Fruit Books</tspan><tspan x="1267" y="1171">Steve Willis</tspan><tspan x="1267" y="1185">Strangers Publishing</tspan><tspan x="1267" y="1199">Summer Pierre</tspan><tspan x="1267" y="1213">Taxonomy Press</tspan><tspan x="1267" y="1227">Ted May</tspan><tspan x="1267" y="1241">The Art of Avy Jetter</tspan><tspan x="1267" y="1255">The Corners of Their Mouth Press</tspan><tspan x="1267" y="1269">Theo Ellsworth</tspan><tspan x="1267" y="1283">tim goodyear teenage dinosaur</tspan><tspan x="1267" y="1297">Tom Deslongchamp</tspan><tspan x="1267" y="1311">Tom Fellrath/Phoenix Productions</tspan><tspan x="1267" y="1325">Travis Head</tspan><tspan x="1267" y="1339">Travis Rommereim</tspan><tspan x="1267" y="1353">Valeriya Volkova</tspan><tspan x="1267" y="1368">Vera Project</tspan><tspan x="1267" y="1382">Veronica Velazquez-Aviles</tspan><tspan x="1267" y="1396">Vidya Giri</tspan><tspan x="1267" y="1410">Wendy Ho</tspan><tspan x="1267" y="1424">William Chen</tspan><tspan x="1267" y="1438">Yewon Kwon &amp; Ben Kraco</tspan><tspan x="1267" y="1452">Yina Kim</tspan><tspan x="1267" y="1466">Yoko OK</tspan><tspan x="1267" y="1480">Yudha Sandy</tspan><tspan x="1267" y="1494">Zak Sally/La Mano 21</tspan><tspan x="1267" y="1508">Zine Hug</tspan></text>
</svg>
</body></html>
